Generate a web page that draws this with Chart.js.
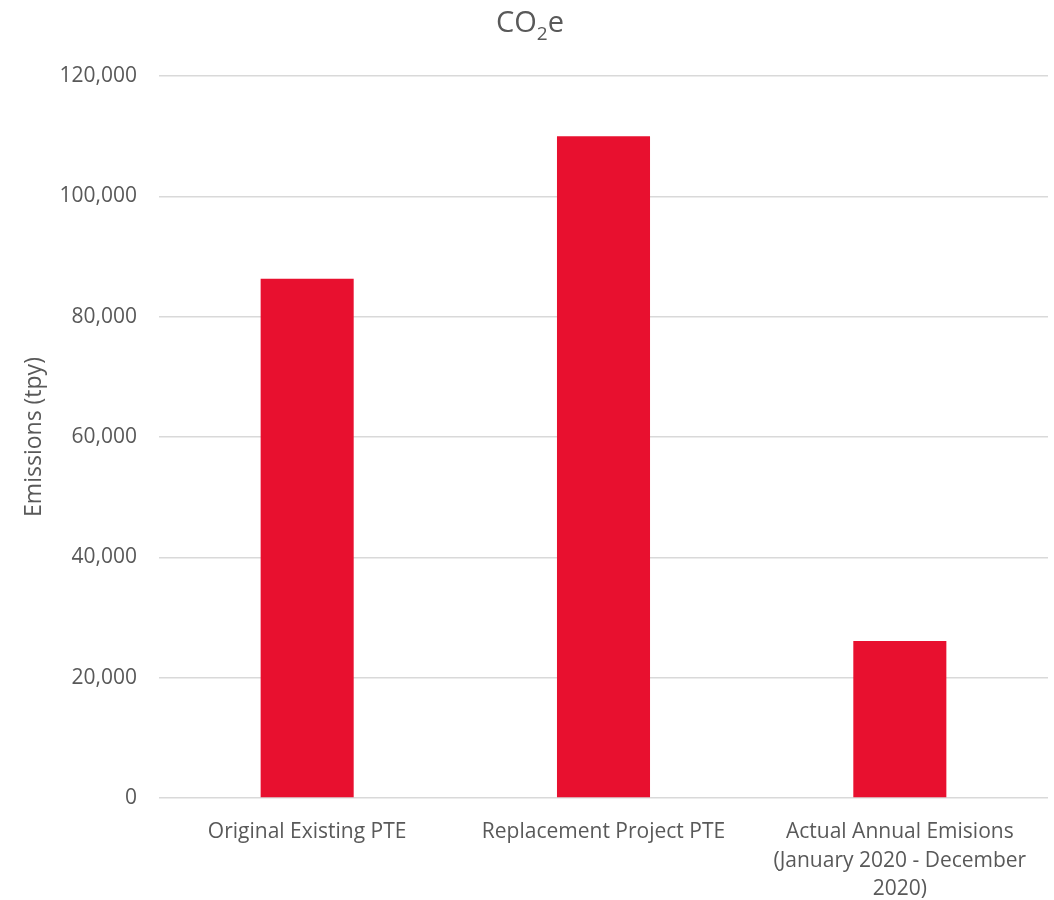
<!DOCTYPE html>
<html lang="en">
<head>
    <meta charset="UTF-8">
    <title>CO2e Emissions</title>
    <script src="https://cdn.jsdelivr.net/npm/chart.js"></script>
    <style>
        body { margin: 0; background: #fff; }
        #emissionsChart { display: block; }
    </style>
</head>
<body>
    <canvas id="emissionsChart" width="1054" height="900"></canvas>
    <script>
        // Emissions per scenario (tons per year)
        const categories = [
            "Original Existing PTE",
            "Replacement Project PTE",
            ["Actual Annual Emisions", "(January 2020 - December", "2020)"]
        ];
        const co2eValues = [86300, 110000, 26100];

        // Title pieces: [text, isSubscript]
        const titleParts = [["CO", false], ["2", true], ["e", false]];

        const textColor = "#595959";
        const fontFamily = "'Open Sans', 'Liberation Sans', sans-serif";

        // Chart title with a real subscript 2
        const subscriptTitle = {
            id: "subscriptTitle",
            afterDraw(chart) {
                const c = chart.ctx;
                const mainFont = "29px " + fontFamily;
                const subFont = "19px " + fontFamily;
                c.save();
                c.fillStyle = textColor;
                c.textBaseline = "alphabetic";
                c.textAlign = "left";
                let total = 0;
                const widths = titleParts.map(([t, sub]) => {
                    c.font = sub ? subFont : mainFont;
                    const w = c.measureText(t).width;
                    total += w;
                    return w;
                });
                let x = 530 - total / 2;
                const baseY = 32;
                titleParts.forEach(([t, sub], i) => {
                    c.font = sub ? subFont : mainFont;
                    c.fillText(t, x, sub ? baseY + 8 : baseY);
                    x += widths[i];
                });
                c.restore();
            }
        };

        const ctx = document.getElementById("emissionsChart").getContext("2d");
        new Chart(ctx, {
            type: "bar",
            data: {
                labels: categories,
                datasets: [{
                    label: "CO2e",
                    data: co2eValues,
                    backgroundColor: "#E8102F",
                    borderWidth: 0,
                    categoryPercentage: 1,
                    barPercentage: 0.314
                }]
            },
            options: {
                responsive: false,
                devicePixelRatio: 1,
                animation: false,
                layout: { padding: { left: 0, right: 6, top: 76, bottom: 0 } },
                plugins: {
                    legend: { display: false },
                    tooltip: { enabled: false },
                    title: { display: false }
                },
                scales: {
                    x: {
                        grid: { display: false },
                        border: { display: false },
                        ticks: {
                            color: textColor,
                            font: { family: fontFamily, size: 21, lineHeight: 1.35 },
                            padding: 12,
                            maxRotation: 0,
                            autoSkip: false
                        },
                        afterFit: (scale) => { scale.height = 102; }
                    },
                    y: {
                        min: 0,
                        max: 120000,
                        ticks: {
                            stepSize: 20000,
                            color: textColor,
                            font: { family: fontFamily, size: 21 },
                            padding: 22,
                            callback: (v) => v.toLocaleString("en-US")
                        },
                        grid: { color: "#D9D9D9", lineWidth: 1.5, drawTicks: false },
                        border: { display: false },
                        title: {
                            display: true,
                            text: "Emissions (tpy)",
                            color: textColor,
                            font: { family: fontFamily, size: 23 },
                            padding: { top: 21, bottom: 0 }
                        },
                        afterFit: (scale) => { scale.width = 159; }
                    }
                }
            },
            plugins: [subscriptTitle]
        });
    </script>
</body>
</html>
